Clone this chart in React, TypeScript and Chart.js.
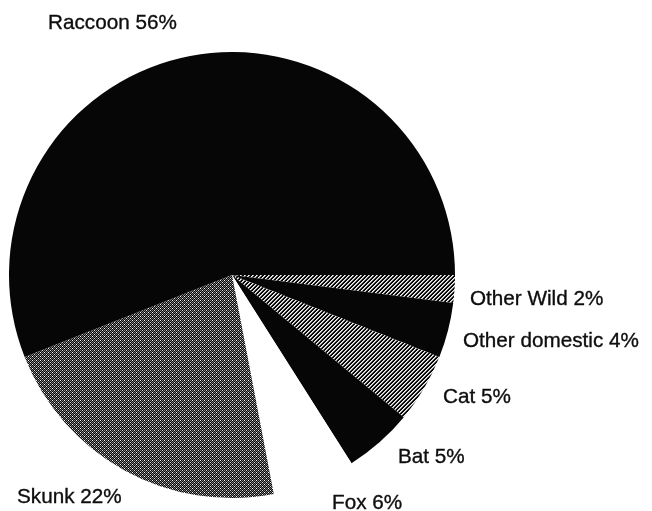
import React, { useEffect, useRef } from "react";
import { Chart, registerables } from "chart.js";

Chart.register(...registerables);

// Clockwise from 3 o'clock
const categories = ["Other Wild", "Other domestic", "Cat", "Bat", "Fox", "Skunk", "Raccoon"];
const shares = [2, 4, 5, 5, 6, 22, 56];

// Fill style for each slice
const fills = ["hatch", "black", "hatch", "black", "white", "dither", "black"];

// Label placement (left x, baseline y) on the canvas
const labelPos: [number, number][] = [
  [470, 305],
  [463, 347],
  [443, 403],
  [398, 463],
  [332, 509],
  [17, 503],
  [48, 29],
];

function makePattern(kind: string): CanvasPattern | string {
  if (kind === "black") return "#060606";
  if (kind === "white") return "#ffffff";
  const tile = document.createElement("canvas");
  tile.width = 4;
  tile.height = 4;
  const g = tile.getContext("2d")!;
  g.fillStyle = "#080808";
  g.fillRect(0, 0, 4, 4);
  if (kind === "hatch") {
    // forward-slash diagonal stripes
    for (let i = 0; i < 4; i++) {
      g.fillStyle = "#f4f4f4";
      g.fillRect(3 - i, i, 1, 1);
      g.fillStyle = "#a8a8a8";
      g.fillRect((4 - i) % 4, i, 1, 1);
    }
  } else {
    // dot dither
    for (let y = 0; y < 4; y++) {
      for (let x = 0; x < 4; x++) {
        if ((x + y) % 2 === 0) {
          g.fillStyle = x === 0 && y === 0 ? "#ffffff" : x === 2 && y === 2 ? "#e0e0e0" : "#7a7a7a";
          g.fillRect(x, y, 1, 1);
        }
      }
    }
  }
  const ctx = document.createElement("canvas").getContext("2d")!;
  return ctx.createPattern(tile, "repeat")!;
}

const labelPlugin = {
  id: "sliceLabels",
  afterDraw(chart: Chart) {
    const ctx = chart.ctx;
    ctx.save();
    ctx.fillStyle = "#0e0e0e";
    ctx.strokeStyle = "#0e0e0e";
    ctx.lineWidth = 0.35;
    ctx.font = '20.7px "Liberation Sans", Arial, sans-serif';
    ctx.textAlign = "left";
    ctx.textBaseline = "alphabetic";
    categories.forEach((c, i) => {
      const [x, y] = labelPos[i];
      const t = `${c} ${shares[i]}%`;
      ctx.fillText(t, x, y);
      ctx.strokeText(t, x, y);
    });
    ctx.restore();
  },
};

export default function App() {
  const ref = useRef<HTMLCanvasElement>(null);
  useEffect(() => {
    const canvas = ref.current!;
    const chart = new Chart(canvas, {
      type: "pie",
      data: {
        labels: categories,
        datasets: [
          {
            data: shares,
            backgroundColor: fills.map(makePattern) as any,
            borderWidth: 0,
            hoverOffset: 0,
            offset: 0,
          },
        ],
      },
      options: {
        responsive: false,
        animation: false,
        devicePixelRatio: 1,
        rotation: 90,
        layout: { padding: { left: 9, right: 197, top: 52, bottom: 13 } },
        plugins: { legend: { display: false }, tooltip: { enabled: false } },
        events: [],
      },
      plugins: [labelPlugin],
    });
    return () => chart.destroy();
  }, []);
  return (
    <div style={{ position: "fixed", left: 0, top: 0, width: 652, height: 511, background: "#fff" }}>
      <canvas ref={ref} width={652} height={511} style={{ display: "block" }} />
    </div>
  );
}
